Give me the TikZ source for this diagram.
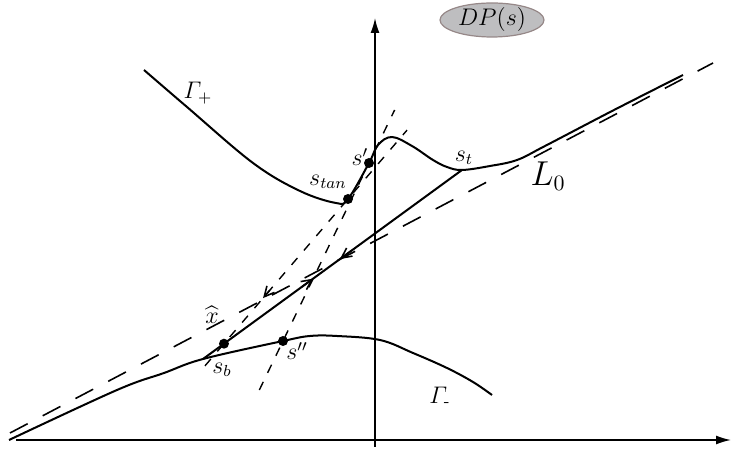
\documentclass[tikz,border=0pt]{standalone}
\usepackage{amsmath}
\usepackage{xcolor}
\usetikzlibrary{arrows.meta, positioning, calc, shapes.geometric}
\definecolor{dpfill}{RGB}{190,190,192}
\definecolor{dpdraw}{RGB}{150,136,136}
\tikzset{
    axis/.style={
        line width=0.8pt, -{Latex[length=7.5pt, width=4.5pt]}
    },
    curve/.style={
        line width=1pt, line join=round
    },
    longdash/.style={
        line width=0.8pt, dash pattern=on 10pt off 8.5pt
    },
    shortdash/.style={
        line width=0.7pt, dash pattern=on 4.5pt off 5pt
    },
    barb/.style={
        line width=0.8pt, -{Straight Barb[length=5pt, width=5pt]}
    },
    spot/.style={
        circle, fill=black, inner sep=0pt, minimum size=5pt
    },
    dpbox/.style={
        ellipse, draw=dpdraw, fill=dpfill, line width=0.6pt,
        inner sep=0pt, minimum width=52pt, minimum height=17pt,
        font=\large
    },
    mathlabel/.style={
        inner sep=0pt, font=\large
    }
}

\begin{document}
\begin{tikzpicture}[x=0.5pt, y=0.5pt]
    \useasboundingbox (0,0) rectangle (733,449);
    % axes
    \coordinate (xstart) at (16,9);
    \coordinate (xend) at (731,9);
    \coordinate (ystart) at (375,2);
    \coordinate (yend) at (375,431);
    \draw[axis] (xstart) -- (xend);
    \draw[axis] (ystart) -- (yend);
    \node[dpbox] (dp) at (492,429) {$DP(s)$};

    % points on the curves
    \coordinate (sb) at (203,90);
    \coordinate (st) at (462,279);
    \node[spot] (xhat) at ($(sb)!0.081!(st)$) {};
    \node[spot] (spp) at (283,108) {};
    \node[spot] (stan) at (348,250) {};
    \node[spot] (sp) at (369,286) {};

    % dashed lines
    \coordinate (lza) at (10,16);
    \coordinate (lzb) at (713,386);
    \draw[longdash] (lza) -- (lzb);
    \draw[shortdash] ($(xhat)!-0.153!(stan)$) -- ($(xhat)!1.476!(stan)$);
    \draw[shortdash] ($(spp)!-0.275!(sp)$) -- ($(spp)!1.298!(sp)$);

    % curves
    \draw[curve] plot[smooth, tension=0.6] coordinates {
        (144,379) (187,342) (253,286) (300,258) (336,246) (348,250)
        (369,286) (378,304) (392,312) (412,303) (433,289) (447,282)
        (462,279) (490,283) (517,289) (545,303) (614,339) (683,374)};
    \draw[curve] plot[smooth, tension=0.6] coordinates {
        (9,9) (117,59) (164,76) (203,90) (283,108) (310,113) (337,113)
        (380,109) (413,96) (447,81) (473,67) (492,54)};
    \draw[curve] (sb) -- (st);

    % arrow tips
    \draw[barb] ($(sb)!0.38!(st)$) -- ($(sb)!0.425!(st)$);
    \draw[barb] ($(sb)!0.575!(st)$) -- ($(sb)!0.529!(st)$);
    \draw[barb] ($(xhat)!0.37!(stan)$) -- ($(xhat)!0.315!(stan)$);

    % labels
    \node[mathlabel] (gplus) at (198,356) {$\varGamma_+$};
    \node[mathlabel] (gminus) at (440,52) {$\varGamma_{\text{-}}$};
    \node[mathlabel] (stanlabel) at (328,267) {$s_{tan}$};
    \node[mathlabel] (splabel) at (360,292) {$s'$};
    \node[mathlabel] (stlabel) at (464,291) {$s_t$};
    \node[mathlabel, font=\fontsize{16}{19}\selectfont] (lzlabel) at (548,273) {$L_0$};
    \node[mathlabel] (xlabel) at (212,134) {$\widehat{x}$};
    \node[mathlabel] (sblabel) at (222,79) {$s_b$};
    \node[mathlabel] (spplabel) at (297,98) {$s''$};
\end{tikzpicture}
\end{document}
